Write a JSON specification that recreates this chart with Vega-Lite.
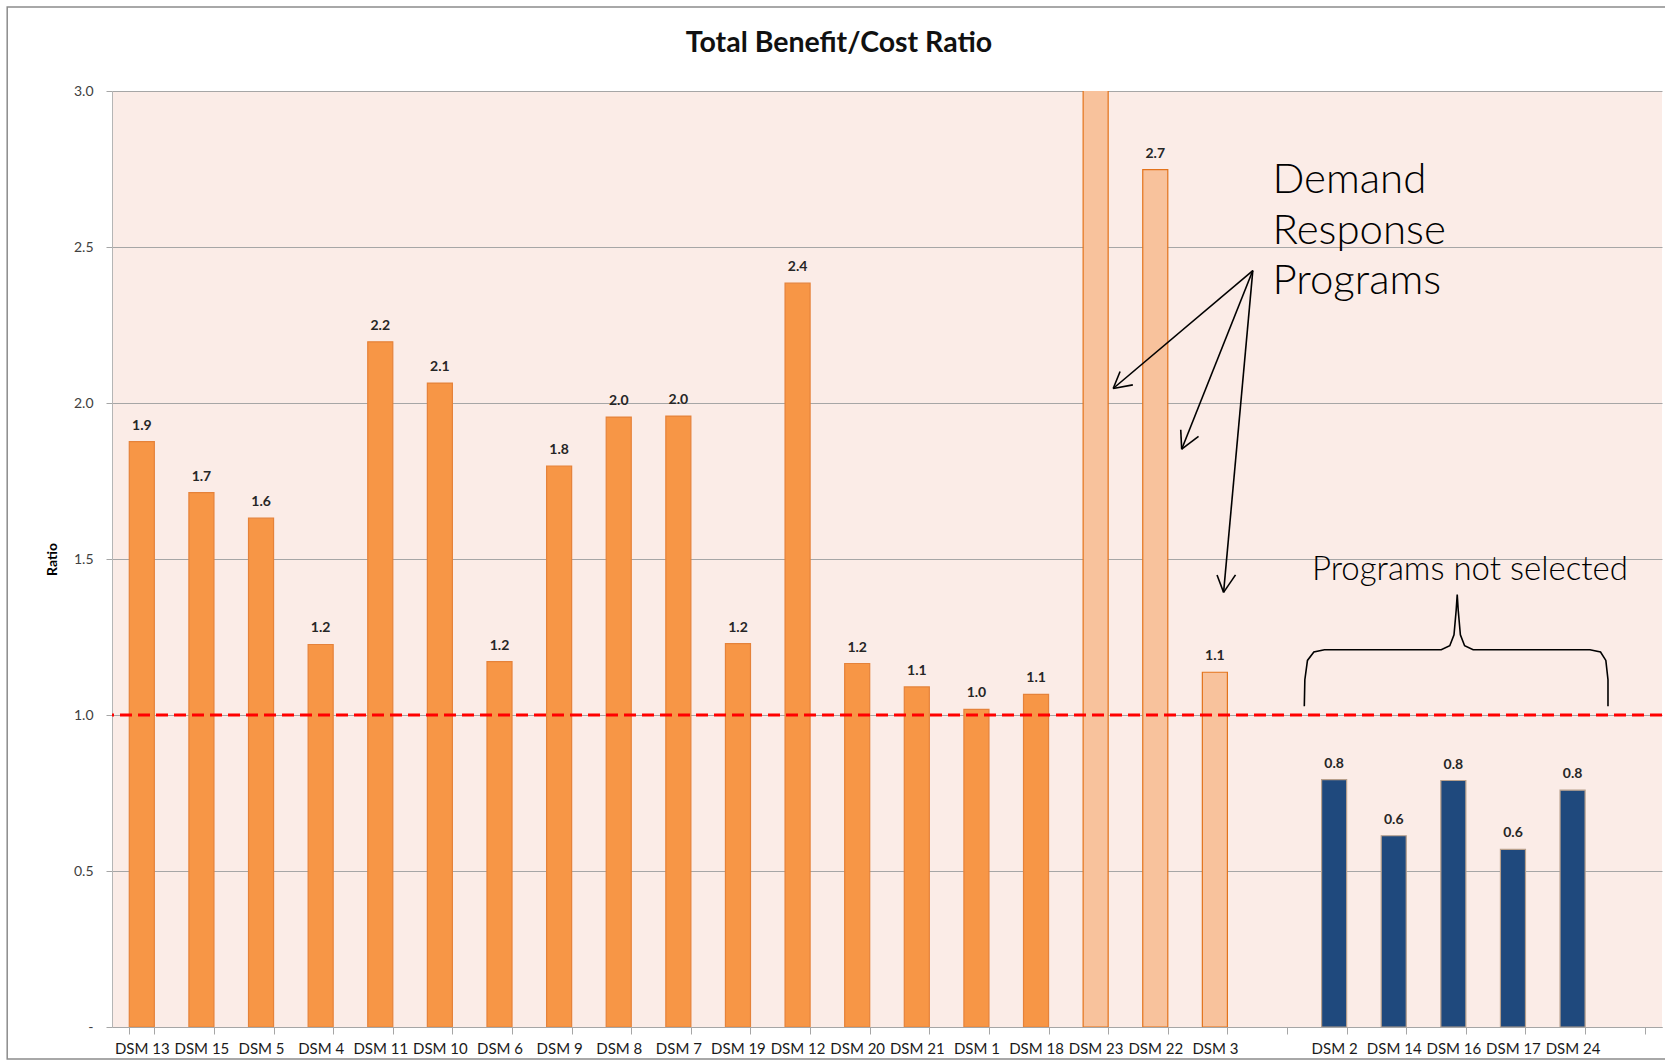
{
  "$schema": "https://vega.github.io/schema/vega-lite/v6.json",
  "width": 1550,
  "height": 936,
  "autosize": {"type": "none"},
  "padding": {"left": 112, "top": 91, "right": 3, "bottom": 34},
  "background": "white",
  "config": {
    "view": {"fill": "#FBECE7", "stroke": null},
    "font": "Lato",
    "axisY": {
      "titleFontSize": 14,
      "titleFontWeight": "bold",
      "titleColor": "#000000",
      "titlePadding": 14,
      "labelFontSize": 14,
      "labelColor": "#404040",
      "labelPadding": 13,
      "tickSize": 6,
      "tickColor": "#A6A6A6",
      "domainColor": "#B5B5B5",
      "grid": true,
      "gridColor": "#A6A6A6",
      "gridWidth": 1
    }
  },
  "title": {
    "text": "Total Benefit/Cost Ratio",
    "fontSize": 28.5,
    "fontWeight": "bold",
    "font": "Lato",
    "color": "#111111",
    "anchor": "middle",
    "dx": -48,
    "offset": -51
  },
  "datasets": {
    "bars": [
      {"program": "DSM 13", "ratio": 1.876, "group": "selected"},
      {"program": "DSM 15", "ratio": 1.713, "group": "selected"},
      {"program": "DSM 5", "ratio": 1.631, "group": "selected"},
      {"program": "DSM 4", "ratio": 1.226, "group": "selected"},
      {"program": "DSM 11", "ratio": 2.196, "group": "selected"},
      {"program": "DSM 10", "ratio": 2.064, "group": "selected"},
      {"program": "DSM 6", "ratio": 1.171, "group": "selected"},
      {"program": "DSM 9", "ratio": 1.798, "group": "selected"},
      {"program": "DSM 8", "ratio": 1.955, "group": "selected"},
      {"program": "DSM 7", "ratio": 1.958, "group": "selected"},
      {"program": "DSM 19", "ratio": 1.229, "group": "selected"},
      {"program": "DSM 12", "ratio": 2.384, "group": "selected"},
      {"program": "DSM 20", "ratio": 1.165, "group": "selected"},
      {"program": "DSM 21", "ratio": 1.09, "group": "selected"},
      {"program": "DSM 1", "ratio": 1.018, "group": "selected"},
      {"program": "DSM 18", "ratio": 1.066, "group": "selected"},
      {"program": "DSM 23", "ratio": 3.5, "group": "demand response"},
      {"program": "DSM 22", "ratio": 2.748, "group": "demand response"},
      {"program": "DSM 3", "ratio": 1.137, "group": "demand response"},
      {"program": "DSM 2", "ratio": 0.793, "group": "not selected"},
      {"program": "DSM 14", "ratio": 0.613, "group": "not selected"},
      {"program": "DSM 16", "ratio": 0.79, "group": "not selected"},
      {"program": "DSM 17", "ratio": 0.569, "group": "not selected"},
      {"program": "DSM 24", "ratio": 0.759, "group": "not selected"}
    ],
    "threshold": [{"ratio": 1.0}],
    "arrows": [
      {"x": 19.136, "y": 2.4245, "x2": 16.794, "y2": 2.0465},
      {"x": 16.794, "y": 2.0465, "x2": 17.124, "y2": 2.058},
      {"x": 16.794, "y": 2.0465, "x2": 16.91, "y2": 2.101},
      {"x": 19.136, "y": 2.4245, "x2": 17.943, "y2": 1.852},
      {"x": 17.943, "y": 1.852, "x2": 18.226, "y2": 1.893},
      {"x": 17.943, "y": 1.852, "x2": 17.927, "y2": 1.914},
      {"x": 19.136, "y": 2.4245, "x2": 18.646, "y2": 1.393},
      {"x": 18.646, "y": 1.393, "x2": 18.536, "y2": 1.449},
      {"x": 18.646, "y": 1.393, "x2": 18.846, "y2": 1.449}
    ],
    "brace": [
      {"k": 1, "x": 20.0, "y": 1.028},
      {"k": 2, "x": 20.009, "y": 1.113},
      {"k": 3, "x": 20.053, "y": 1.175},
      {"k": 4, "x": 20.16, "y": 1.202},
      {"k": 5, "x": 20.338, "y": 1.209},
      {"k": 6, "x": 22.297, "y": 1.209},
      {"k": 7, "x": 22.44, "y": 1.222},
      {"k": 8, "x": 22.511, "y": 1.257},
      {"k": 9, "x": 22.547, "y": 1.335},
      {"k": 10, "x": 22.565, "y": 1.386},
      {"k": 11, "x": 22.582, "y": 1.335},
      {"k": 12, "x": 22.618, "y": 1.257},
      {"k": 13, "x": 22.689, "y": 1.222},
      {"k": 14, "x": 22.832, "y": 1.209},
      {"k": 15, "x": 24.791, "y": 1.209},
      {"k": 16, "x": 24.969, "y": 1.202},
      {"k": 17, "x": 25.058, "y": 1.175},
      {"k": 18, "x": 25.094, "y": 1.113},
      {"k": 19, "x": 25.094, "y": 1.028}
    ],
    "bignotes": [
      {"x": 19.466, "y": 2.714, "label": "Demand"},
      {"x": 19.466, "y": 2.551, "label": "Response"},
      {"x": 19.466, "y": 2.39, "label": "Programs"}
    ],
    "notes": [
      {"x": 22.778, "y": 1.464, "label": "Programs not selected"}
    ],
    "frame": [
      {"x": -1.758, "x2": 26.5, "y": -0.1026, "y2": 3.269}
    ]
  },
  "layer": [
    {
      "data": {"name": "bars"},
      "mark": {"type": "bar", "clip": true, "strokeWidth": 1.2},
      "encoding": {
        "x": {
          "field": "program",
          "type": "nominal",
          "sort": null,
          "scale": {
            "domain": ["DSM 13", "DSM 15", "DSM 5", "DSM 4", "DSM 11", "DSM 10", "DSM 6", "DSM 9", "DSM 8", "DSM 7", "DSM 19", "DSM 12", "DSM 20", "DSM 21", "DSM 1", "DSM 18", "DSM 23", "DSM 22", "DSM 3", " ", "DSM 2", "DSM 14", "DSM 16", "DSM 17", "DSM 24", "  "],
            "paddingInner": 0.58,
            "paddingOuter": 0.29
          },
          "axis": {
            "title": null,
            "labelAngle": 0,
            "labelFontSize": 15,
            "labelColor": "#1a1a1a",
            "labelPadding": 7,
            "tickBand": "extent",
            "tickSize": 7,
            "tickColor": "#A6A6A6",
            "domainColor": "#A6A6A6",
            "grid": false
          }
        },
        "y": {
          "field": "ratio",
          "type": "quantitative",
          "scale": {"domain": [0, 3], "nice": false, "zero": true},
          "axis": {
            "title": "Ratio",
            "values": [0, 0.5, 1, 1.5, 2, 2.5, 3],
            "labelExpr": "datum.value == 0 ? '-' : format(datum.value, '.1f')"
          }
        },
        "fill": {
          "field": "group",
          "type": "nominal",
          "scale": {"domain": ["selected", "demand response", "not selected"], "range": ["#F79646", "#F8C29C", "#1F497D"]},
          "legend": null
        },
        "stroke": {
          "field": "group",
          "type": "nominal",
          "scale": {"domain": ["selected", "demand response", "not selected"], "range": ["#E5823A", "#E3731B", "#B8A08C"]},
          "legend": null
        }
      }
    },
    {
      "data": {"name": "bars"},
      "transform": [{"filter": "datum.ratio <= 3"}],
      "mark": {"type": "text", "fontWeight": "bold", "fontSize": 14, "color": "#262626", "baseline": "alphabetic", "dy": -12},
      "encoding": {
        "x": {
          "field": "program",
          "type": "nominal",
          "sort": null,
          "scale": {
            "domain": ["DSM 13", "DSM 15", "DSM 5", "DSM 4", "DSM 11", "DSM 10", "DSM 6", "DSM 9", "DSM 8", "DSM 7", "DSM 19", "DSM 12", "DSM 20", "DSM 21", "DSM 1", "DSM 18", "DSM 23", "DSM 22", "DSM 3", " ", "DSM 2", "DSM 14", "DSM 16", "DSM 17", "DSM 24", "  "],
            "paddingInner": 0.58,
            "paddingOuter": 0.29
          },
          "axis": null
        },
        "y": {"field": "ratio", "type": "quantitative", "scale": {"domain": [0, 3], "nice": false}, "title": "Ratio"},
        "text": {"field": "ratio", "type": "quantitative", "format": ".1f"}
      }
    },
    {
      "data": {"name": "threshold"},
      "mark": {"type": "rule", "color": "#FF0000", "strokeWidth": 3, "strokeDash": [12, 6]},
      "encoding": {
        "y": {"field": "ratio", "type": "quantitative", "scale": {"domain": [0, 3], "nice": false}, "title": "Ratio"}
      }
    },
    {
      "data": {"name": "arrows"},
      "mark": {"type": "rule", "color": "#000000", "strokeWidth": 1.6},
      "encoding": {
        "x": {"field": "x", "type": "quantitative", "scale": {"domain": [0, 26], "nice": false, "zero": false}, "axis": null},
        "x2": {"field": "x2"},
        "y": {"field": "y", "type": "quantitative", "scale": {"domain": [0, 3], "nice": false}, "title": "Ratio"},
        "y2": {"field": "y2"}
      }
    },
    {
      "data": {"name": "brace"},
      "mark": {"type": "line", "color": "#000000", "strokeWidth": 1.6, "interpolate": "linear"},
      "encoding": {
        "x": {"field": "x", "type": "quantitative", "scale": {"domain": [0, 26], "nice": false, "zero": false}, "axis": null},
        "y": {"field": "y", "type": "quantitative", "scale": {"domain": [0, 3], "nice": false}, "title": "Ratio"},
        "order": {"field": "k", "type": "quantitative"}
      }
    },
    {
      "data": {"name": "bignotes"},
      "mark": {"type": "text", "align": "left", "baseline": "middle", "fontSize": 42, "font": "Lato", "fontWeight": 300, "color": "#000000"},
      "encoding": {
        "x": {"field": "x", "type": "quantitative", "scale": {"domain": [0, 26], "nice": false, "zero": false}, "axis": null},
        "y": {"field": "y", "type": "quantitative", "scale": {"domain": [0, 3], "nice": false}, "title": "Ratio"},
        "text": {"field": "label"}
      }
    },
    {
      "data": {"name": "notes"},
      "mark": {"type": "text", "align": "center", "baseline": "middle", "fontSize": 33, "font": "Lato", "fontWeight": 300, "color": "#000000"},
      "encoding": {
        "x": {"field": "x", "type": "quantitative", "scale": {"domain": [0, 26], "nice": false, "zero": false}, "axis": null},
        "y": {"field": "y", "type": "quantitative", "scale": {"domain": [0, 3], "nice": false}, "title": "Ratio"},
        "text": {"field": "label"}
      }
    },
    {
      "data": {"name": "frame"},
      "mark": {"type": "rect", "fill": null, "fillOpacity": 0, "stroke": "#8C8C8C", "strokeWidth": 1.5, "clip": false},
      "encoding": {
        "x": {"field": "x", "type": "quantitative", "scale": {"domain": [0, 26], "nice": false, "zero": false}, "axis": null},
        "x2": {"field": "x2"},
        "y": {"field": "y", "type": "quantitative", "scale": {"domain": [0, 3], "nice": false}, "title": "Ratio"},
        "y2": {"field": "y2"}
      }
    }
  ],
  "resolve": {"scale": {"x": "independent"}}
}
